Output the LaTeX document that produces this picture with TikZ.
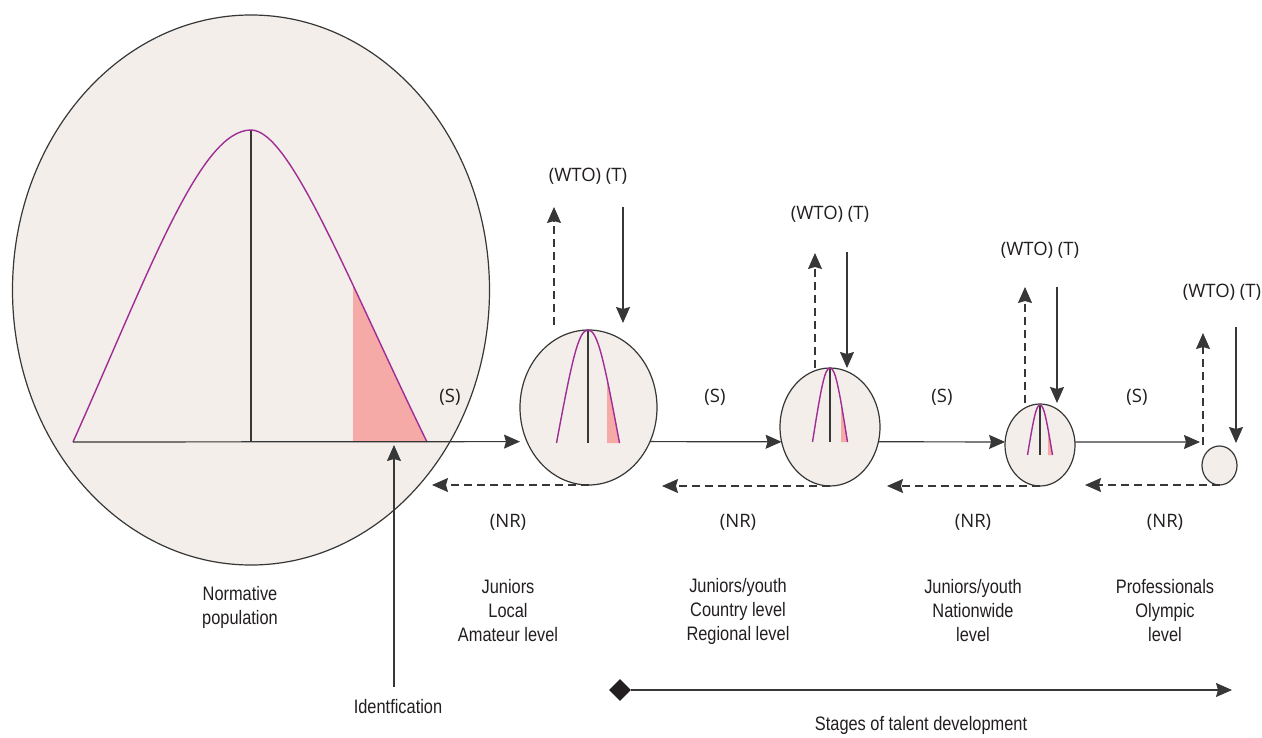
\documentclass[tikz,border=0pt]{standalone}
\usepackage{fontspec}
\setmainfont{Liberation Sans}[FakeStretch=0.84]
\newfontfamily\tagfont{Open Sans}
\usetikzlibrary{arrows.meta,shapes.geometric}

\definecolor{bubblefill}{RGB}{243,238,233}
\definecolor{inkgray}{RGB}{55,55,55}
\definecolor{bellpurple}{RGB}{160,45,150}
\definecolor{tailpink}{RGB}{245,170,168}
\definecolor{textink}{RGB}{35,31,32}

\tikzset{
  bubble/.style={ellipse, draw=inkgray, fill=bubblefill, line width=1.2pt, inner sep=0pt, outer sep=0pt},
  axisline/.style={draw=inkgray, line width=1.1pt},
  bellline/.style={draw=bellpurple, line width=1.4pt},
  flow/.style={draw=inkgray, line width=1.2pt, -{Stealth[length=16pt,width=14pt,inset=2pt]}},
  backflow/.style={flow, dash pattern=on 8pt off 5pt},
  tag/.style={font=\tagfont\fontsize{18.5}{22}\selectfont, text=textink, inner sep=0pt},
  caption/.style={font=\fontsize{19.5}{24}\selectfont, text=textink, align=center, inner sep=0pt},
}

% small bell curve inside a stage bubble:
% #1 centre x, #2 top y, #3 base y, #4 half width, #5 start of the shaded tail
\newcommand\minibell[5]{%
  \begin{scope}
    \clip (#5,#2) rectangle ({#1+#4+2},#3);
    \fill[tailpink] ({#1-#4},#3) .. controls ({#1-0.5*#4},{#2+0.25*(#3-#2)}) and ({#1-0.3*#4},#2) .. (#1,#2)
      .. controls ({#1+0.3*#4},#2) and ({#1+0.5*#4},{#2+0.25*(#3-#2)}) .. ({#1+#4},#3) -- cycle;
  \end{scope}
  \draw[axisline] (#1,#2) -- (#1,#3);
  \draw[bellline] ({#1-#4},#3) .. controls ({#1-0.5*#4},{#2+0.25*(#3-#2)}) and ({#1-0.3*#4},#2) .. (#1,#2)
      .. controls ({#1+0.3*#4},#2) and ({#1+0.5*#4},{#2+0.25*(#3-#2)}) .. ({#1+#4},#3);
}

\begin{document}
\begin{tikzpicture}[x=1pt,y=-1pt]
\useasboundingbox (0,0) rectangle (1262,738);
\fill[white] (0,0) rectangle (1262,738);

% normative population
\node[bubble, minimum width=477pt, minimum height=550pt] (pop) at (251,290) {};
\def\bellpath{(73,442) .. controls (150,270) and (200,130) .. (251,130) .. controls (290,130) and (347,278) .. (427,442)}
\begin{scope}
  \clip (353,100) rectangle (440,442);
  \fill[tailpink] \bellpath -- cycle;
\end{scope}
\draw[axisline] (251,130) -- (251,442);
\draw[bellline] \bellpath;

% stage bubbles
\node[bubble, minimum width=137pt, minimum height=155pt] (c2) at (588.5,407.5) {};
\node[bubble, minimum width=100pt, minimum height=118pt] (c3) at (830,427) {};
\node[bubble, minimum width=70pt, minimum height=82pt] (c4) at (1040,445) {};
\node[bubble, minimum width=35pt, minimum height=39pt] (c5) at (1219.5,465.5) {};

\minibell{588}{330}{443}{31.5}{607}
\minibell{830}{368}{442}{17.5}{841}
\minibell{1040}{405}{455}{12.5}{1048}

% selection (S)
\coordinate (axis0) at (73,442);
\coordinate (s4end) at (1200,442);
\draw[flow, shorten >=7pt] (axis0) -- (c2.209);
\draw[flow] (c2.-29) -- (c3.197);
\draw[flow] (c3.-17) -- (c4.175);
\draw[flow] (c4.5) -- (s4end);
\node[tag] (s1) at (450,397) {(S)};
\node[tag] (s2) at (715,397) {(S)};
\node[tag] (s3) at (942,397) {(S)};
\node[tag] (s4) at (1137,397) {(S)};

% non-retention (NR)
\coordinate (nr1) at (432,485);
\coordinate (nr2) at (662,486);
\coordinate (nr3) at (887,486);
\coordinate (nr4) at (1085,485);
\draw[backflow] (c2.south) -- (nr1);
\draw[backflow] (c3.south) -- (nr2);
\draw[backflow] (c4.south) -- (nr3);
\draw[backflow] (c5.south) -- (nr4);
\node[tag] (nrl1) at (508,522) {(NR)};
\node[tag] (nrl2) at (738,522) {(NR)};
\node[tag] (nrl3) at (973,522) {(NR)};
\node[tag] (nrl4) at (1165,522) {(NR)};

% drop-out (WTO) and transfer in (T)
\coordinate (up2a) at (554,325);  \coordinate (up2b) at (554,207);
\coordinate (dn2a) at (623,207);  \coordinate (dn2b) at (623,323);
\coordinate (up3a) at (815,368);  \coordinate (up3b) at (815,253);
\coordinate (dn3a) at (847,252);  \coordinate (dn3b) at (847,368);
\coordinate (up4a) at (1025,403); \coordinate (up4b) at (1025,287);
\coordinate (dn4a) at (1057,287); \coordinate (dn4b) at (1057,403);
\coordinate (up5a) at (1203,445); \coordinate (up5b) at (1203,333);
\coordinate (dn5a) at (1236,327); \coordinate (dn5b) at (1236,443);
\draw[backflow] (up2a) -- (up2b);  \draw[flow] (dn2a) -- (dn2b);
\draw[backflow] (up3a) -- (up3b);  \draw[flow] (dn3a) -- (dn3b);
\draw[backflow] (up4a) -- (up4b);  \draw[flow] (dn4a) -- (dn4b);
\draw[backflow] (up5a) -- (up5b);  \draw[flow] (dn5a) -- (dn5b);
\node[tag] (wt2) at (588,176) {(WTO) (T)};
\node[tag] (wt3) at (830,214) {(WTO) (T)};
\node[tag] (wt4) at (1040,250) {(WTO) (T)};
\node[tag] (wt5) at (1222,292) {(WTO) (T)};

% captions
\node[caption] (normpop) at (240,607) {Normative\\population};
\node[caption] (lvl1) at (508,611) {Juniors\\Local\\Amateur level};
\node[caption] (lvl2) at (738,611) {Juniors/youth\\Country level\\Regional level};
\node[caption] (lvl3) at (973,611) {Juniors/youth\\Nationwide\\level};
\node[caption] (lvl4) at (1165,611) {Professionals\\Olympic\\level};

% identification
\node[caption] (ident) at (398,707) {Identfication};
\coordinate (idfoot) at (394,687);
\coordinate (idtip) at (394,445);
\draw[flow] (idfoot) -- (idtip);

% stages of talent development
\node[diamond, fill=textink, minimum width=22pt, minimum height=22pt, inner sep=0pt] (start) at (620,690) {};
\coordinate (stagesend) at (1232,690);
\draw[flow] (start) -- (stagesend);
\node[caption] (stages) at (921,725) {Stages of talent development};
\end{tikzpicture}
\end{document}
